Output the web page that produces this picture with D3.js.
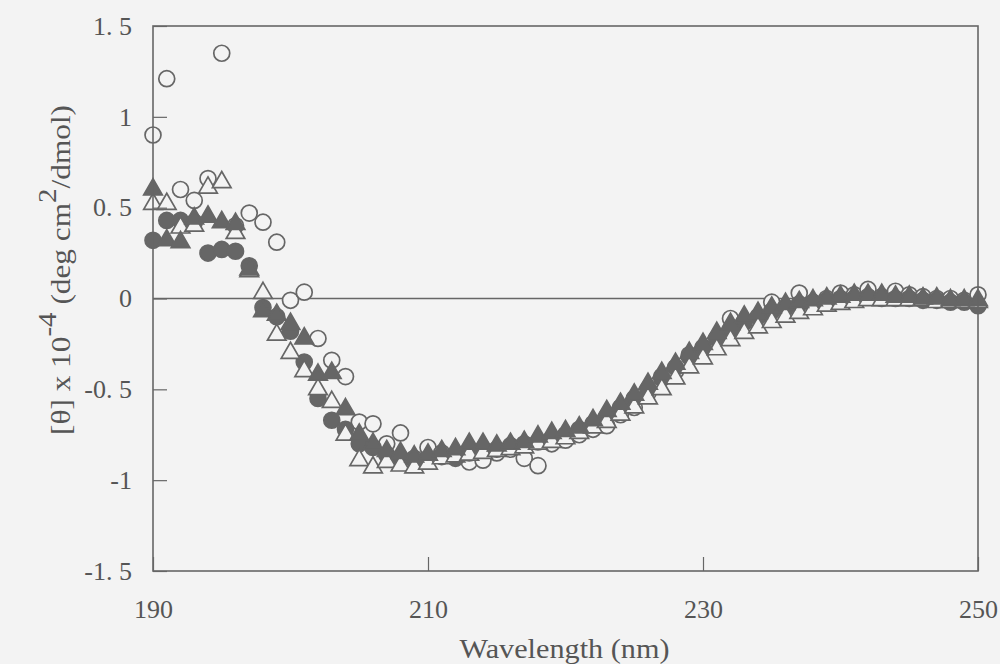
<!DOCTYPE html>
<html>
<head>
<meta charset="utf-8">
<script src="https://cdn.jsdelivr.net/npm/d3@7"></script>
<style>
    body { margin: 0; background: #f3f3f3; }
    svg { display: block; }
</style>
</head>
<body>
<div id="chart"></div>
<script>
// Wavelengths, one reading per nm.
const wavelengths = d3.range(190, 251);

// Open circles.
const openCircles = [
    0.90, 1.21, 0.60, 0.54, 0.66, 1.35, 0.40, 0.47, 0.42, 0.31,
    -0.01, 0.035, -0.22, -0.34, -0.43, -0.68, -0.69, -0.80, -0.74, -0.88,
    -0.82, -0.85, -0.87, -0.90, -0.89, -0.85, -0.83, -0.88, -0.92, -0.80,
    -0.78, -0.75, -0.72, -0.70, -0.64, -0.60, -0.52, -0.43, -0.40, -0.31,
    -0.28, -0.22, -0.11, -0.13, -0.12, -0.02, -0.05, 0.03, -0.03, 0.0,
    0.03, 0.02, 0.05, 0.01, 0.04, 0.02, 0.01, 0.0, 0.0, -0.01,
    0.02
];

// Filled circles.
const filledCircles = [
    0.32, 0.43, 0.43, 0.42, 0.25, 0.27, 0.26, 0.18, -0.05, -0.10,
    -0.18, -0.35, -0.55, -0.67, -0.72, -0.80, -0.82, -0.86, -0.88, -0.89,
    -0.88, -0.87, -0.88, -0.85, -0.83, -0.83, -0.81, -0.80, -0.79, -0.77,
    -0.75, -0.72, -0.69, -0.65, -0.60, -0.55, -0.50, -0.44, -0.38, -0.32,
    -0.27, -0.22, -0.17, -0.13, -0.10, -0.07, -0.05, -0.03, -0.02, -0.01,
    0.0, 0.0, 0.01, 0.0, 0.0, 0.0, -0.01, -0.01, -0.02, -0.02,
    -0.04
];

// Open triangles.
const openTriangles = [
    0.52, 0.52, 0.39, 0.40, 0.61, 0.64, 0.36, 0.15, 0.03, -0.20,
    -0.30, -0.40, -0.50, -0.57, -0.75, -0.89, -0.93, -0.90, -0.92, -0.93,
    -0.91, -0.88, -0.87, -0.86, -0.85, -0.84, -0.83, -0.82, -0.80, -0.79,
    -0.77, -0.74, -0.71, -0.68, -0.64, -0.60, -0.55, -0.50, -0.44, -0.38,
    -0.33, -0.28, -0.23, -0.19, -0.16, -0.13, -0.10, -0.08, -0.06, -0.04,
    -0.03, -0.02, -0.01, -0.01, -0.01, -0.01, -0.01, -0.02, -0.02, -0.02,
    -0.02
];

// Filled triangles.
const filledTriangles = [
    0.60, 0.32, 0.31, 0.44, 0.45, 0.42, 0.41, 0.16, -0.07, -0.09,
    -0.14, -0.22, -0.42, -0.41, -0.61, -0.75, -0.80, -0.84, -0.85, -0.87,
    -0.86, -0.84, -0.83, -0.80, -0.80, -0.81, -0.80, -0.79, -0.76, -0.74,
    -0.73, -0.71, -0.67, -0.62, -0.58, -0.53, -0.47, -0.41, -0.36, -0.30,
    -0.25, -0.19, -0.14, -0.10, -0.08, -0.05, -0.03, -0.02, -0.01, 0.0,
    0.01, 0.02, 0.02, 0.02, 0.01, 0.01, 0.0, 0.0, -0.01, -0.01,
    -0.01
];

const xTicks = [190, 210, 230, 250];
const yTicks = [-1.5, -1, -0.5, 0, 0.5, 1, 1.5];

const ink = "#666";
const paper = "#f3f3f3";
const serif = "'Liberation Serif', 'Times New Roman', serif";

const margin = { top: 26, left: 153, bottom: 93, right: 22 };
const fullWidth = 1000, fullHeight = 664;
const width = fullWidth - margin.left - margin.right;
const height = fullHeight - margin.top - margin.bottom;

const x = d3.scaleLinear().domain([190, 250]).range([0, width]);
const y = d3.scaleLinear().domain([-1.5, 1.5]).range([height, 0]);

const svg = d3.select("#chart").append("svg")
    .attr("width", fullWidth)
    .attr("height", fullHeight)
    .style("background", paper);

const g = svg.append("g")
    .attr("transform", "translate(" + margin.left + "," + margin.top + ")");

// Zero line.
g.append("line")
    .attr("x1", 0).attr("x2", width)
    .attr("y1", y(0)).attr("y2", y(0))
    .attr("stroke", ink).attr("stroke-width", 1.3);

// Series, drawn back to front.
const series = [
    { values: openCircles, shape: d3.symbolCircle, fill: paper },
    { values: filledCircles, shape: d3.symbolCircle, fill: ink },
    { values: openTriangles, shape: d3.symbolTriangle, fill: paper },
    { values: filledTriangles, shape: d3.symbolTriangle, fill: ink }
];

series.forEach(function (s) {
    const sym = d3.symbol().type(s.shape).size(s.shape === d3.symbolCircle ? 200 : 150);
    g.append("g").selectAll("path")
        .data(s.values)
        .join("path")
        .attr("d", sym)
        .attr("transform", function (d, i) {
            return "translate(" + x(wavelengths[i]) + "," + y(d) + ")";
        })
        .attr("fill", s.fill)
        .attr("stroke", ink)
        .attr("stroke-width", 1.7);
});

// Frame.
g.append("rect")
    .attr("width", width).attr("height", height)
    .attr("fill", "none")
    .attr("stroke", ink).attr("stroke-width", 1.6);

// Axes with inward ticks.
const xAxis = g.append("g")
    .attr("transform", "translate(0," + height + ")")
    .call(d3.axisBottom(x).tickValues(xTicks).tickSizeInner(-14).tickSizeOuter(0).tickPadding(29).tickFormat(d3.format("d")));

const yAxis = g.append("g")
    .call(d3.axisLeft(y).tickValues(yTicks).tickSizeInner(-14).tickSizeOuter(0).tickPadding(21)
        .tickFormat(function (d) { return String(d).replace(".", ". "); }));

[xAxis, yAxis].forEach(function (a) {
    a.select(".domain").remove();
    a.selectAll("line").attr("stroke", ink).attr("stroke-width", 1.2);
    a.selectAll("text")
        .attr("fill", "#555")
        .style("font-family", serif)
        .style("font-size", "26px");
});

// Axis titles (the original type is slightly stretched along its run).
svg.append("text")
    .attr("transform", "translate(" + (margin.left + width / 2 - 1) + ",658) scale(1.12,1)")
    .attr("text-anchor", "middle")
    .attr("fill", "#555")
    .style("font-family", serif)
    .style("font-size", "27px")
    .text("Wavelength (nm)");

const yTitle = svg.append("text")
    .attr("transform", "translate(70,270) rotate(-90) scale(1.16,1)")
    .attr("text-anchor", "middle")
    .attr("fill", "#555")
    .style("font-family", serif)
    .style("font-size", "27px");

yTitle.append("tspan").text("[θ] x 10");
yTitle.append("tspan").attr("dy", -14).style("font-size", "25px").text("-4");
yTitle.append("tspan").attr("dy", 14).text("  (deg cm");
yTitle.append("tspan").attr("dy", -14).style("font-size", "25px").text("2");
yTitle.append("tspan").attr("dy", 14).text("/dmol)");
</script>
</body>
</html>
